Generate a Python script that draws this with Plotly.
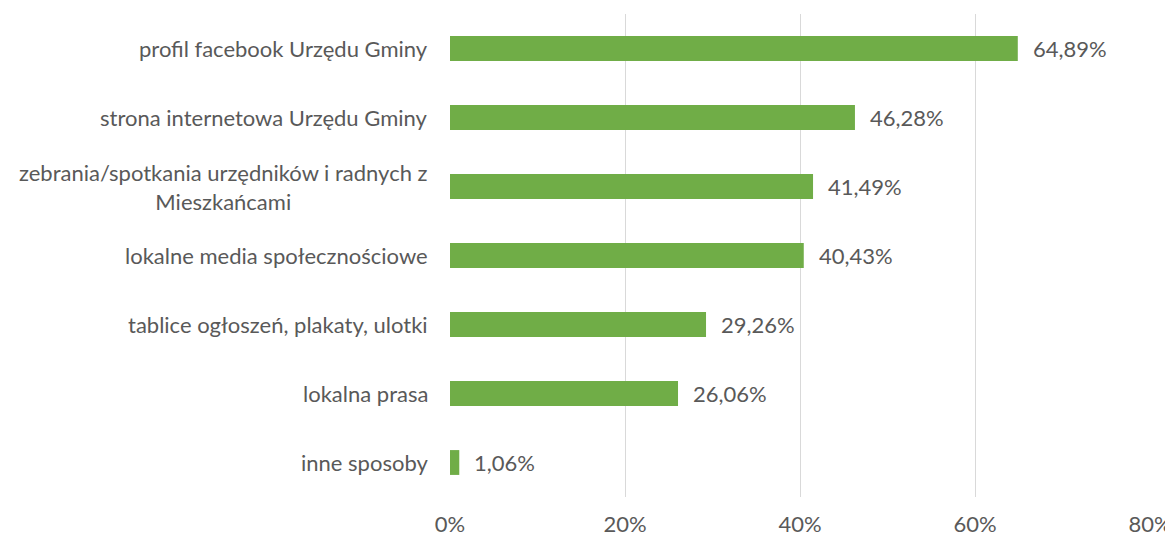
import plotly.graph_objects as go

categories = [
    "profil facebook Urzędu Gminy",
    "strona internetowa Urzędu Gminy",
    "zebrania/spotkania urzędników i radnych z<br>Mieszkańcami",
    "lokalne media społecznościowe",
    "tablice ogłoszeń, plakaty, ulotki",
    "lokalna prasa",
    "inne sposoby",
]
values = [64.89, 46.28, 41.49, 40.43, 29.26, 26.06, 1.06]
x_ticks = [0, 20, 40, 60, 80]
x_tick_labels = ["0%", "20%", "40%", "60%", "80%"]

FONT = "Lato"
FS = 22
TXT = "#595959"

labels = [f"{v:.2f}%".replace(".", ",") for v in values]

fig = go.Figure(go.Bar(
    y=categories,
    x=values,
    orientation="h",
    marker=dict(color="#70AD47", line=dict(width=0)),
    cliponaxis=False,
))

for c in categories:
    fig.add_annotation(
        x=0, xref="paper", y=c, yref="y",
        text=c, showarrow=False, xanchor="right", align="center",
        xshift=-20, font=dict(family=FONT, size=FS, color=TXT),
    )

for c, v, t in zip(categories, values, labels):
    fig.add_annotation(
        x=v, xref="x", y=c, yref="y",
        text=t, showarrow=False, xanchor="left", align="left",
        xshift=13, font=dict(family=FONT, size=FS, color=TXT),
    )

# the page body has an 8px default margin; figure is sized/offset to compensate
fig.update_layout(
    width=1165, height=529,
    margin=dict(l=442, r=23, t=6, b=40, autoexpand=False),
    plot_bgcolor="white", paper_bgcolor="white",
    bargap=0.64,
    showlegend=False,
    font=dict(family=FONT, size=FS, color=TXT),
)
fig.update_xaxes(
    range=[0, 80], tickvals=x_ticks, ticktext=x_tick_labels,
    showgrid=True, gridcolor="#D9D9D9", gridwidth=1.3,
    zeroline=False, showline=False, automargin=False,
    ticks="outside", ticklen=8, tickcolor="rgba(0,0,0,0)",
    tickfont=dict(family=FONT, size=FS, color=TXT),
)
fig.update_yaxes(
    autorange="reversed", showticklabels=False, showgrid=False,
    zeroline=False, showline=False, automargin=False,
)

fig.write_html("out.html")
